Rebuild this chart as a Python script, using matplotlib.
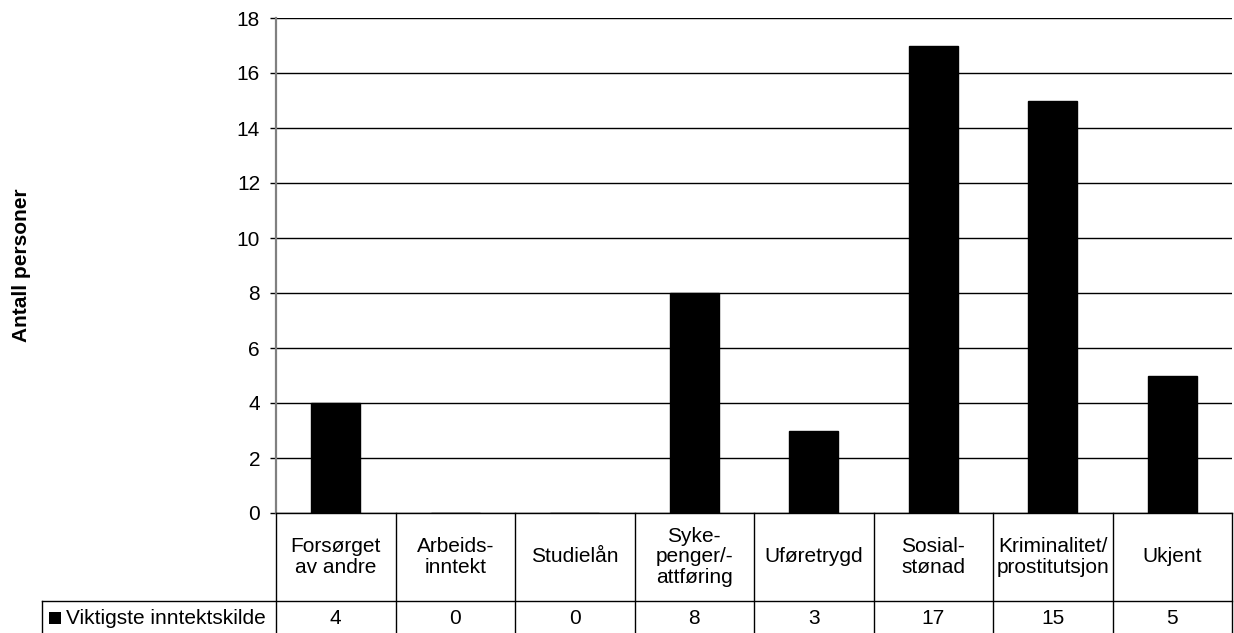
import matplotlib
matplotlib.use("Agg")
import matplotlib.pyplot as plt
import matplotlib.transforms as mtransforms
from matplotlib.patches import Rectangle
from matplotlib.lines import Line2D

categories = [
    "Forsørget\nav andre",
    "Arbeids-\ninntekt",
    "Studielån",
    "Syke-\npenger/-\nattføring",
    "Uføretrygd",
    "Sosial-\nstønad",
    "Kriminalitet/\nprostitutsjon",
    "Ukjent",
]
values = [4, 0, 0, 8, 3, 17, 15, 5]
series_name = "Viktigste inntektskilde"
y_label = "Antall personer"
y_ticks = [0, 2, 4, 6, 8, 10, 12, 14, 16, 18]

plt.rcParams["font.family"] = ["Liberation Sans", "DejaVu Sans"]
FS = 15

W, H = 1234, 633
fig = plt.figure(figsize=(W / 100, H / 100), dpi=100)
fig.patch.set_facecolor("white")


def fx(px):
    return px / W


def fy(py):
    return (H - py) / H


ax_left, ax_right, ax_top, ax_bottom = 276, 1232, 18, 513
ax = fig.add_axes([fx(ax_left), fy(ax_bottom), fx(ax_right - ax_left),
                   fy(ax_top) - fy(ax_bottom)])

x = list(range(len(categories)))
ax.bar(x, values, width=0.41, color="black", edgecolor="black", zorder=3)

ax.set_xlim(-0.5, len(categories) - 0.5)
ax.set_ylim(0, 18)
ax.set_yticks(y_ticks)
ax.set_yticklabels([str(t) for t in y_ticks], fontsize=FS)
ax.set_xticks([])
ax.yaxis.grid(True, color="black", linewidth=1.0, zorder=0)
ax.set_axisbelow(True)
for s in ("top", "right"):
    ax.spines[s].set_visible(False)
ax.spines["bottom"].set_color("black")
ax.spines["bottom"].set_linewidth(1.0)
ax.spines["left"].set_color("#808080")
ax.spines["left"].set_linewidth(1.6)
ax.tick_params(axis="y", length=4.5, width=1.0, color="black", pad=7)

fig.text(fx(22), fy(265), y_label, rotation=90, ha="center", va="center",
         fontsize=FS, fontweight="bold")

# data table beneath the plot
blend = mtransforms.blended_transform_factory(ax.transData, fig.transFigure)
row1_top, row_split, row2_bottom = ax_bottom, 601, H + 2

for i in range(len(categories) + 1):
    xb = i - 0.5
    fig.add_artist(Line2D([xb, xb], [fy(row1_top), fy(row2_bottom)],
                          transform=blend, color="black", linewidth=1.0))
fig.add_artist(Line2D([fx(42), fx(ax_right)], [fy(row_split), fy(row_split)],
                      transform=fig.transFigure, color="black", linewidth=1.0))
fig.add_artist(Line2D([fx(42), fx(42)], [fy(row_split), fy(row2_bottom)],
                      transform=fig.transFigure, color="black", linewidth=1.0))

row1_mid = (row1_top + row_split) / 2
row2_mid = 618
for i, (cat, val) in enumerate(zip(categories, values)):
    fig.text(i, fy(row1_mid), cat, transform=blend, ha="center", va="center",
             fontsize=FS, linespacing=1.1)
    fig.text(i, fy(row2_mid), str(val), transform=blend, ha="center",
             va="center", fontsize=FS)

fig.add_artist(Rectangle((fx(49), fy(624)), fx(12), fy(612) - fy(624),
                         transform=fig.transFigure, facecolor="black",
                         edgecolor="none"))
fig.text(fx(66), fy(row2_mid), series_name, ha="left", va="center", fontsize=FS)

fig.savefig("out.png", dpi=100)
